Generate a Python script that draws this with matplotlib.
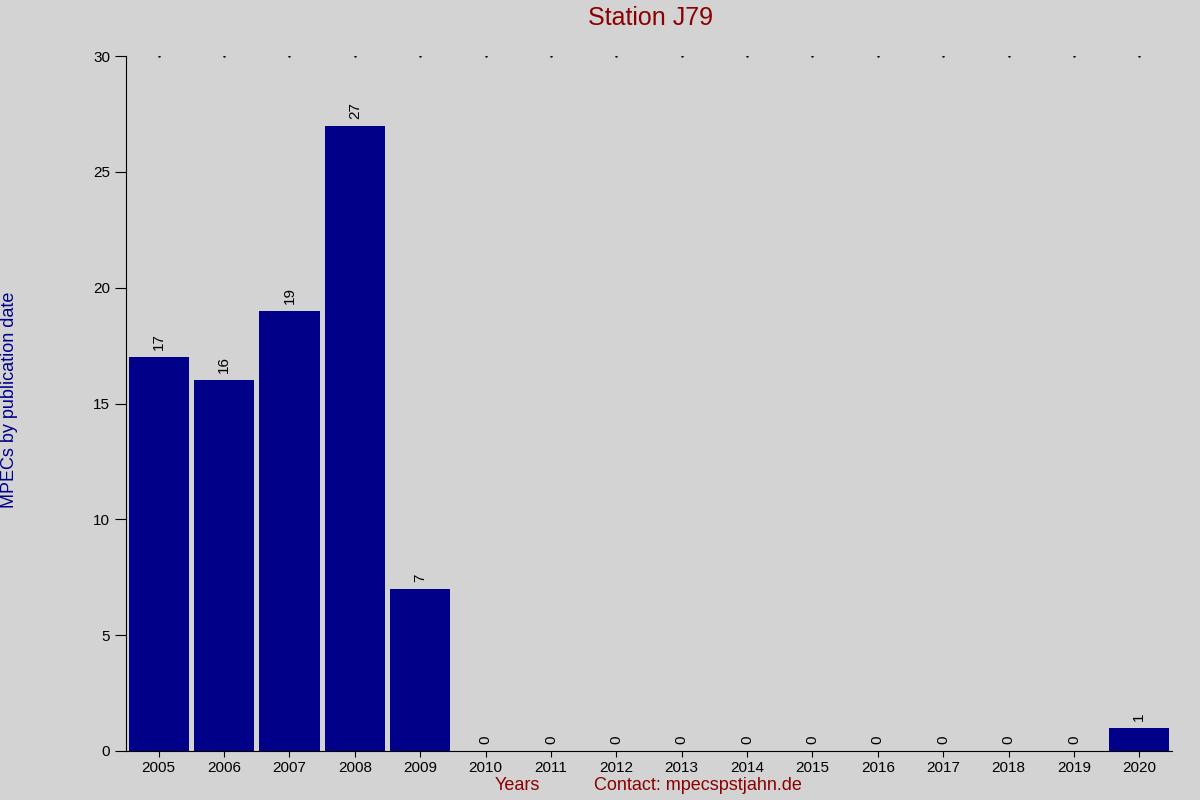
import matplotlib
matplotlib.use("Agg")
import matplotlib.pyplot as plt

years = [str(y) for y in range(2005, 2021)]
counts = [17, 16, 19, 27, 7, 0, 0, 0, 0, 0, 0, 0, 0, 0, 0, 1]

plt.rcParams['font.family'] = ['Liberation Sans', 'DejaVu Sans']
fig = plt.figure(figsize=(12, 8), dpi=100, facecolor='#d3d3d3')
ax = fig.add_axes([126/1200, 1-751/800, (1172-126)/1200, (751-56)/800])
ax.set_facecolor('#d3d3d3')
x = list(range(len(years)))
ax.bar(x, counts, width=0.92, color='#000088')
for xi, c in zip(x, counts):
    ax.text(xi, c + 0.3, str(c), rotation=90, ha='center', va='bottom', fontsize=11)
    ax.plot(xi, 30, marker='.', ms=1.5, color='black')
ax.set_xlim(-0.5, 15.5)
ax.set_ylim(0, 30)
ax.set_xticks(x)
ax.set_xticklabels(years, fontsize=11)
ax.set_yticks([0, 5, 10, 15, 20, 25, 30])
ax.tick_params(axis='y', labelsize=11, direction='out', length=8)
ax.tick_params(axis='x', length=4, direction='out')
for s in ['top', 'right']:
    ax.spines[s].set_visible(False)
fig.text(0.5417, 1-18/800, 'Station J79', ha='center', va='center', fontsize=18, color='#8b0000')
fig.text(10/1200, 0.5, 'MPECs by publication date', rotation=90, ha='center', va='center', fontsize=13, color='#000088')
fig.text(517/1200, 1-786/800, 'Years', ha='center', va='center', fontsize=13, color='#8b0000')
fig.text(698/1200, 1-786/800, 'Contact: mpecspstjahn.de', ha='center', va='center', fontsize=13, color='#8b0000')
fig.savefig('out.png', dpi=100, facecolor=fig.get_facecolor())
